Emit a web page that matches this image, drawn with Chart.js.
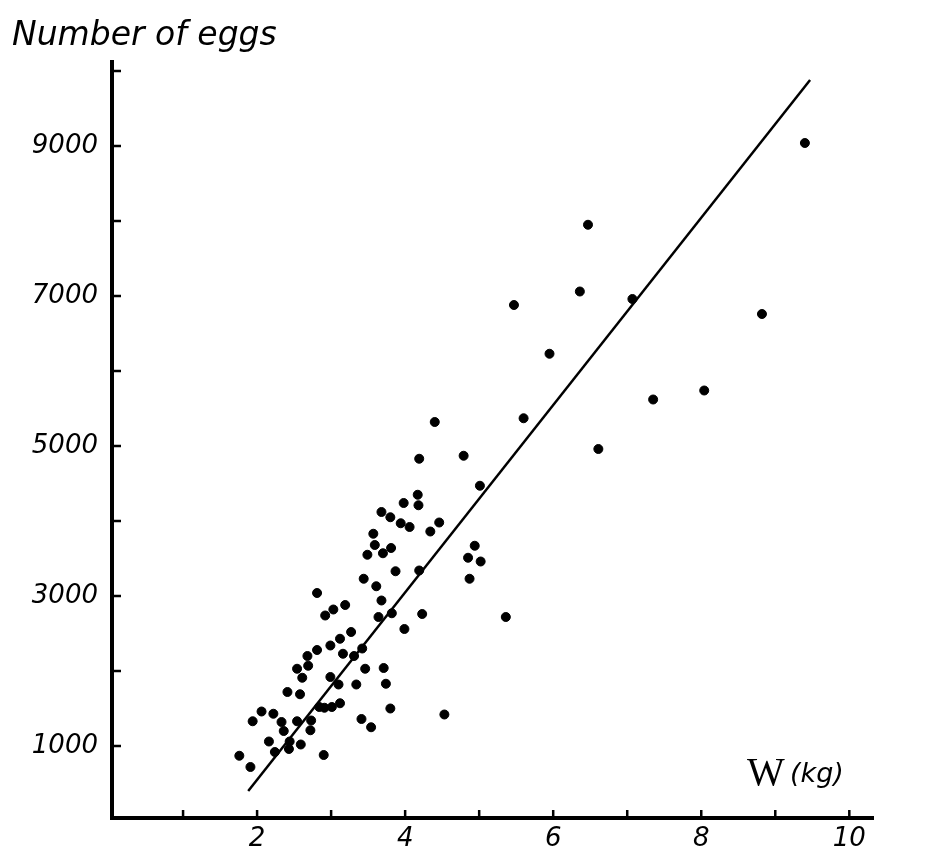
<!DOCTYPE html>
<html>
<head>
<meta charset="utf-8">
<script src="https://cdn.jsdelivr.net/npm/chart.js@4.4.1/dist/chart.umd.min.js"></script>
<style>
  html, body { margin: 0; padding: 0; background: #fff; }
  #wrap { width: 938px; height: 860px; }
</style>
</head>
<body>
<div id="wrap"><canvas id="eggChart"></canvas></div>
<script>
// fish weight (kg) vs number of eggs
const weightKg = [
  4.40, 4.19, 3.98, 4.17, 4.18, 3.68, 3.80, 3.94, 4.06, 4.46, 4.34, 3.57, 3.59, 3.49,
  3.70, 3.81, 3.87, 4.19, 3.44, 3.61, 3.68, 2.81, 3.03, 3.19, 2.92, 3.64, 3.82, 4.23,
  3.99, 3.27, 3.12, 2.99, 2.81, 2.68, 2.69, 2.54, 2.61, 3.16, 3.31, 3.42, 3.46, 3.71,
  2.99, 3.10, 3.34, 3.74, 2.41, 2.58, 2.06, 2.22, 1.94, 2.33, 2.54, 2.73, 2.84, 2.91,
  3.01, 3.12, 3.80, 3.41, 3.54, 2.36, 2.72, 2.16, 2.44, 2.24, 2.43, 2.59, 1.76, 1.91,
  2.90, 4.53,
  6.47, 6.36, 5.47, 7.07, 8.82, 5.95, 5.60, 7.35, 8.04, 6.61, 4.79, 5.01, 4.94, 4.85,
  5.02, 4.87, 5.36, 9.40
];
const eggCount = [
  5320, 4830, 4240, 4350, 4210, 4120, 4050, 3970, 3920, 3980, 3860, 3830, 3680, 3550,
  3570, 3640, 3330, 3340, 3230, 3130, 2940, 3040, 2820, 2880, 2740, 2720, 2770, 2760,
  2560, 2520, 2430, 2340, 2280, 2200, 2070, 2030, 1910, 2230, 2200, 2300, 2030, 2040,
  1920, 1820, 1820, 1830, 1720, 1690, 1460, 1430, 1330, 1320, 1330, 1340, 1520, 1510,
  1520, 1570, 1500, 1360, 1250, 1200, 1210, 1060, 1060, 920, 960, 1020, 870, 720,
  880, 1420,
  7950, 7060, 6880, 6960, 6760, 6230, 5370, 5620, 5740, 4960, 4870, 4470, 3670, 3510,
  3460, 3230, 2720, 9040
];

// hand-drawn regression line, two ends
const fitX = [1.88, 9.47];
const fitY = [400, 9880];

const xTicks = [1, 2, 3, 4, 5, 6, 7, 8, 9, 10];
const yTicks = [1000, 2000, 3000, 4000, 5000, 6000, 7000, 8000, 9000, 10000];
const xLabeled = [2, 4, 6, 8, 10];
const yLabeled = [1000, 3000, 5000, 7000, 9000];

const inkFont = '"DejaVu Sans", sans-serif';

// small tick marks pointing into the plot, plus the two axis captions
const sketchMarks = {
  id: 'sketchMarks',
  afterDraw(chart) {
    const ctx = chart.ctx;
    const area = chart.chartArea;
    const xs = chart.scales.x, ys = chart.scales.y;
    ctx.save();
    ctx.strokeStyle = '#000';
    ctx.lineWidth = 2.5;
    ctx.beginPath();
    xTicks.forEach(v => {
      const px = xs.getPixelForValue(v);
      ctx.moveTo(px, area.bottom);
      ctx.lineTo(px, area.bottom - 8);
    });
    yTicks.forEach(v => {
      const py = ys.getPixelForValue(v);
      ctx.moveTo(area.left, py);
      ctx.lineTo(area.left + 9, py);
    });
    ctx.stroke();

    ctx.fillStyle = '#000';
    ctx.textBaseline = 'alphabetic';
    ctx.textAlign = 'left';
    ctx.font = 'italic 33px ' + inkFont;
    ctx.fillText('Number of eggs', 12, 45);
    ctx.font = '40px "Liberation Serif", serif';
    ctx.fillText('W', 747, 785);
    ctx.font = 'italic 27px ' + inkFont;
    ctx.fillText('(kg)', 790, 782);
    ctx.restore();
  }
};

new Chart(document.getElementById('eggChart'), {
  type: 'scatter',
  data: {
    datasets: [
      {
        label: 'Eggs',
        data: weightKg.map((w, i) => ({ x: w, y: eggCount[i] })),
        backgroundColor: '#000',
        borderColor: '#000',
        pointRadius: 4.5,
        pointHoverRadius: 4.5
      },
      {
        type: 'line',
        label: 'Fit',
        data: fitX.map((x, i) => ({ x: x, y: fitY[i] })),
        borderColor: '#000',
        borderWidth: 2.5,
        pointRadius: 0,
        fill: false
      }
    ]
  },
  options: {
    responsive: true,
    maintainAspectRatio: false,
    animation: false,
    layout: { padding: { top: 62, right: 65, left: 0, bottom: 0 } },
    plugins: {
      legend: { display: false },
      tooltip: { enabled: false }
    },
    scales: {
      x: {
        type: 'linear',
        min: 0.04,
        max: 10.32,
        afterBuildTicks: s => { s.ticks = xTicks.map(v => ({ value: v })); },
        afterFit: s => { s.height = 42; },
        grid: { display: true, drawOnChartArea: false, drawTicks: false },
        border: { display: true, color: '#000', width: 4 },
        ticks: {
          padding: 6,
          color: '#000',
          font: { family: inkFont, size: 26, style: 'italic' },
          callback: v => xLabeled.includes(v) ? String(v) : ''
        }
      },
      y: {
        type: 'linear',
        min: 40,
        max: 10120,
        afterBuildTicks: s => { s.ticks = yTicks.map(v => ({ value: v })); },
        afterFit: s => { s.width = 112; },
        grid: { display: true, drawOnChartArea: false, drawTicks: false },
        border: { display: true, color: '#000', width: 4 },
        ticks: {
          padding: 14,
          color: '#000',
          font: { family: inkFont, size: 26, style: 'italic' },
          callback: v => yLabeled.includes(v) ? String(v) : ''
        }
      }
    }
  },
  plugins: [sketchMarks]
});
</script>
</body>
</html>
